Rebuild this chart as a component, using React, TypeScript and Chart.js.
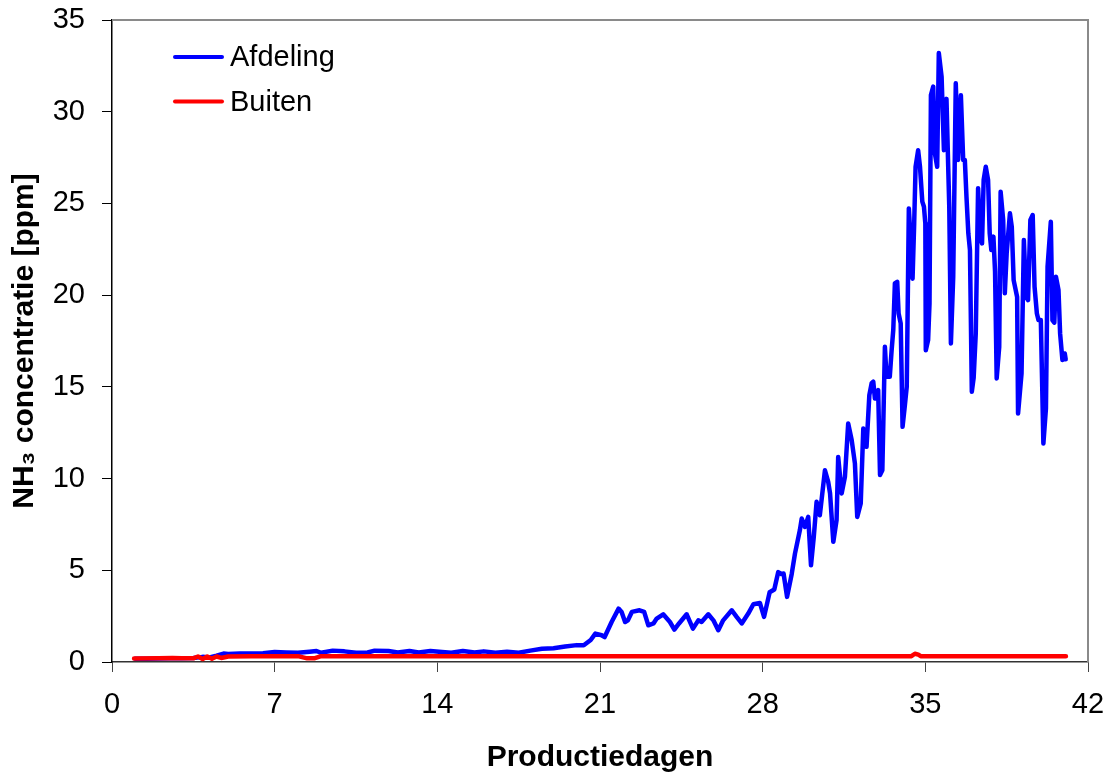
import React, { useEffect, useRef } from "react";
import { Chart, registerables } from "chart.js";

Chart.register(...registerables);

// Production day (x) and NH3 concentration in ppm (y) for the house ("Afdeling")
const afdelingDays = [
  1.0, 1.5, 2.0, 2.5, 3.0, 3.5, 3.9, 4.2, 4.5, 4.8, 5.0, 5.5, 6.0, 6.5, 7.0, 7.5,
  8.0, 8.5, 8.8, 9.0, 9.5, 10.0, 10.5, 11.0, 11.3, 11.9, 12.3, 12.8, 13.2, 13.7,
  14.2, 14.6, 15.1, 15.6, 16.0, 16.5, 17.0, 17.5, 18.0, 18.5, 19.0, 19.5, 20.0,
  20.3, 20.6, 20.8, 21.07, 21.2, 21.5, 21.8, 21.93, 22.08, 22.2, 22.37, 22.7,
  22.9, 23.08, 23.3, 23.44, 23.72, 24.01, 24.2, 24.4, 24.73, 25.0, 25.23, 25.37,
  25.66, 25.88, 26.09, 26.3, 26.67, 26.88, 27.1, 27.38, 27.6, 27.88, 28.06, 28.3,
  28.5, 28.67, 28.8, 28.9, 29.05, 29.25, 29.39, 29.6, 29.68, 29.82, 29.96, 30.08,
  30.2, 30.32, 30.46, 30.68, 30.82, 30.9, 31.04, 31.18, 31.25, 31.4, 31.54, 31.68,
  31.83, 31.97, 32.07, 32.22, 32.33, 32.47, 32.59, 32.69, 32.76, 32.83, 32.97,
  33.05, 33.15, 33.26, 33.33, 33.47, 33.55, 33.62, 33.69, 33.79, 33.85, 33.94,
  34.02, 34.12, 34.2, 34.29, 34.36, 34.45, 34.52, 34.58, 34.69, 34.77, 34.87,
  34.94, 35.0, 35.02, 35.12, 35.18, 35.24, 35.34, 35.41, 35.51, 35.58, 35.7, 35.8,
  35.91, 35.98, 36.03, 36.1, 36.2, 36.31, 36.41, 36.53, 36.63, 36.7, 36.77, 36.85,
  36.92, 37.0, 37.08, 37.17, 37.27, 37.37, 37.44, 37.51, 37.6, 37.7, 37.77, 37.84,
  37.93, 38.0, 38.07, 38.18, 38.24, 38.35, 38.42, 38.5, 38.64, 38.72, 38.8, 38.95,
  38.99, 39.14, 39.24, 39.34, 39.42, 39.52, 39.62, 39.7, 39.8, 39.87, 39.97, 40.08,
  40.19, 40.26, 40.4, 40.47, 40.55, 40.62, 40.73, 40.8, 40.9, 41.0, 41.04,
];
const afdelingPpm = [
  0.18, 0.18, 0.19, 0.2, 0.2, 0.22, 0.28, 0.25, 0.35, 0.46, 0.44, 0.46, 0.47,
  0.48, 0.55, 0.52, 0.5, 0.56, 0.6, 0.5, 0.62, 0.58, 0.5, 0.52, 0.62, 0.6, 0.52,
  0.6, 0.52, 0.6, 0.55, 0.5, 0.6, 0.52, 0.58, 0.5, 0.56, 0.5, 0.62, 0.72, 0.75,
  0.85, 0.92, 0.91, 1.2, 1.55, 1.46, 1.36, 2.18, 2.91, 2.73, 2.18, 2.27, 2.73,
  2.82, 2.73, 2.0, 2.1, 2.37, 2.6, 2.18, 1.77, 2.1, 2.6, 1.82, 2.27, 2.18, 2.6,
  2.27, 1.73, 2.27, 2.82, 2.46, 2.1, 2.64, 3.15, 3.22, 2.46, 3.8, 3.95, 4.9, 4.8,
  4.82, 3.55, 4.8, 5.91, 7.18, 7.82, 7.36, 7.91, 5.27, 6.82, 8.73, 8.0, 10.45,
  9.82, 9.19, 6.55, 7.73, 11.18, 9.19, 10.09, 13.0, 12.1, 10.82, 7.91, 8.64, 12.73,
  11.73, 14.55, 15.2, 15.28, 14.37, 14.82, 10.2, 10.45, 17.18, 15.55, 15.55, 17.0,
  18.1, 20.64, 20.73, 19.0, 18.46, 12.82, 14.0, 15.0, 24.73, 23.19, 20.9, 23.9,
  27.0, 27.9, 27.0, 25.1, 24.82, 23.9, 17.0, 17.55, 19.55, 30.9, 31.37, 27.73,
  27.0, 33.2, 31.9, 27.9, 30.7, 27.2, 24.8, 17.37, 21.0, 31.55, 27.37, 30.9, 27.37,
  27.37, 25.37, 23.37, 22.46, 14.73, 15.5, 17.9, 25.83, 23.19, 22.82, 26.28, 27.0,
  26.28, 23.37, 22.46, 23.19, 21.28, 15.46, 17.18, 25.64, 24.1, 20.1, 22.28,
  24.46, 23.73, 20.82, 19.9, 13.55, 15.73, 23.0, 19.9, 19.73, 24.1, 24.37, 20.46,
  19.0, 18.64, 18.64, 11.91, 13.82, 21.55, 24.0, 18.64, 18.5, 21.0, 20.28, 17.9,
  16.46, 16.82, 16.5,
];

// Outdoor ("Buiten") concentration
const buitenDays = [
  0.95, 2.0, 2.6, 3.0, 3.5, 3.7, 3.9, 4.1, 4.3, 4.5, 4.7, 5.0, 6.0, 7.0, 8.0,
  8.4, 8.7, 9.0, 14.0, 21.0, 28.0, 34.4, 34.55, 34.7, 34.8, 41.05,
];
const buitenPpm = [
  0.19, 0.2, 0.22, 0.2, 0.2, 0.3, 0.16, 0.3, 0.18, 0.3, 0.22, 0.3, 0.31, 0.32,
  0.32, 0.2, 0.2, 0.32, 0.32, 0.32, 0.32, 0.32, 0.45, 0.4, 0.32, 0.32,
];

const xTickStep = 7;
const yTickStep = 5;
const xMax = 42;
const yMax = 35;

const seriesLabels = ["Afdeling", "Buiten"];
const seriesColors = ["#0000ff", "#ff0000"];

const FONT = "'Liberation Sans', Arial, Helvetica, sans-serif";

const toPoints = (xs: number[], ys: number[]) =>
  xs.map((x, i) => ({ x, y: ys[i] }));

// Draws the grey plot frame (top + right) and the in-plot legend
const framePlugin = {
  id: "frameAndLegend",
  afterDraw(chart: any) {
    const { ctx, chartArea } = chart;
    const { left, top, right, bottom } = chartArea;
    ctx.save();
    ctx.strokeStyle = "#8a8a8a";
    ctx.lineWidth = 2;
    ctx.beginPath();
    ctx.moveTo(left, top);
    ctx.lineTo(right, top);
    ctx.lineTo(right, bottom);
    ctx.stroke();

    // legend
    const startX = left + 63;
    const lineLen = 47;
    const textX = left + 118;
    let y = top + 37;
    ctx.font = `29px ${FONT}`;
    ctx.textBaseline = "middle";
    ctx.textAlign = "left";
    chart.data.datasets.forEach((ds: any) => {
      ctx.strokeStyle = ds.borderColor;
      ctx.lineWidth = 4;
      ctx.lineCap = "round";
      ctx.beginPath();
      ctx.moveTo(startX, y);
      ctx.lineTo(startX + lineLen, y);
      ctx.stroke();
      ctx.fillStyle = "#000";
      ctx.fillText(ds.label, textX, y + 1);
      y += 44.5;
    });
    ctx.restore();
  },
};

export default function App() {
  const canvasRef = useRef<HTMLCanvasElement | null>(null);

  useEffect(() => {
    document.body.style.margin = "0";
    const canvas = canvasRef.current;
    if (!canvas) return;
    const chart = new Chart(canvas, {
      type: "line",
      data: {
        datasets: [
          {
            label: seriesLabels[0],
            data: toPoints(afdelingDays, afdelingPpm),
            borderColor: seriesColors[0],
            backgroundColor: seriesColors[0],
            borderWidth: 4.5,
            pointRadius: 0,
            tension: 0,
            borderJoinStyle: "round",
            borderCapStyle: "round",
            order: 1,
          },
          {
            label: seriesLabels[1],
            data: toPoints(buitenDays, buitenPpm),
            borderColor: seriesColors[1],
            backgroundColor: seriesColors[1],
            borderWidth: 4.5,
            pointRadius: 0,
            tension: 0,
            borderJoinStyle: "round",
            borderCapStyle: "round",
            order: 0,
          },
        ],
      },
      options: {
        animation: false,
        responsive: false,
        maintainAspectRatio: false,
        layout: { padding: { left: 0, right: 26, top: 20, bottom: 0 } },
        plugins: {
          legend: { display: false },
          tooltip: { enabled: false },
        },
        scales: {
          x: {
            type: "linear",
            min: 0,
            max: xMax,
            afterFit: (scale: any) => {
              scale.height = 114;
              scale.paddingLeft = 0;
              scale.paddingRight = 0;
            },
            ticks: {
              stepSize: xTickStep,
              color: "#000",
              padding: 16,
              font: { family: FONT, size: 29 },
            },
            grid: {
              display: true,
              drawOnChartArea: false,
              drawTicks: true,
              tickLength: 10,
              color: "#444",
            },
            border: { display: true, color: "#333", width: 1.5 },
            title: {
              display: true,
              text: "Productiedagen",
              color: "#000",
              font: { family: FONT, size: 30, weight: "bold" },
              padding: { top: 0, bottom: 0 },
            },
          },
          y: {
            type: "linear",
            min: 0,
            max: yMax,
            afterFit: (scale: any) => {
              scale.width = 112;
              scale.paddingTop = 0;
              scale.paddingBottom = 0;
            },
            ticks: {
              stepSize: yTickStep,
              color: "#000",
              padding: 17,
              font: { family: FONT, size: 29 },
            },
            grid: {
              display: true,
              drawOnChartArea: false,
              drawTicks: true,
              tickLength: 10,
              color: "#000",
            },
            border: { display: true, color: "#000", width: 1.5 },
            title: {
              display: true,
              text: "NH\u2083 concentratie [ppm]",
              color: "#000",
              font: { family: FONT, size: 30, weight: "bold" },
              padding: { top: 7, bottom: 0 },
            },
          },
        },
      },
      plugins: [framePlugin],
    });
    return () => chart.destroy();
  }, []);

  return (
    <div style={{ width: 1114, height: 776, background: "#fff" }}>
      <canvas ref={canvasRef} width={1114} height={776} />
    </div>
  );
}
